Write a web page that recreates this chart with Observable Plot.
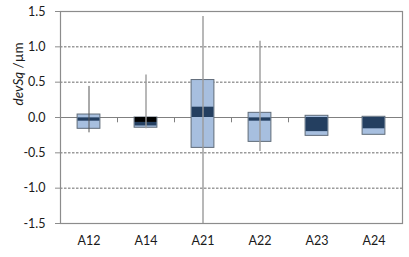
<!DOCTYPE html>
<html>
<head>
<meta charset="utf-8">
<script src="https://cdn.jsdelivr.net/npm/d3@7"></script>
<script src="https://cdn.jsdelivr.net/npm/@observablehq/plot@0.6"></script>
<style>
  html, body { margin: 0; padding: 0; background: #fff; }
  #chart { width: 409px; height: 257px; }
</style>
</head>
<body>
<div id="chart"></div>
<script>
// ---- data ----
const categories = ["A12", "A14", "A21", "A22", "A23", "A24"];
const boxLow  = [-0.16, -0.145, -0.43, -0.345, -0.26, -0.245];
const boxHigh = [0.042, 0.0, 0.53, 0.066, 0.024, 0.01];
const midLow  = [-0.052, -0.12, 0.0, -0.052, -0.2, -0.16];
const midHigh = [-0.005, -0.07, 0.146, -0.005, 0.0, 0.0];
const blackCats = ["A14"];
const blackLow  = [-0.07];
const blackHigh = [0.0];
const whiskerCats = ["A12", "A14", "A21", "A22"];
const whiskerLow  = [-0.217, -0.16, -1.5, -0.48];
const whiskerHigh = [0.44, 0.6, 1.43, 1.08];
const yTicks = [-1.5, -1.0, -0.5, 0.0, 0.5, 1.0, 1.5];
const gridValues = [-1.0, -0.5, 0.5, 1.0];
const separatorCats = ["A14", "A21", "A22", "A23"];

// ---- tables ----
const boxes = categories.map((c, i) => ({cat: c, lo: boxLow[i], hi: boxHigh[i], mlo: midLow[i], mhi: midHigh[i]}));
const blacks = blackCats.map((c, i) => ({cat: c, lo: blackLow[i], hi: blackHigh[i]}));
const whiskers = whiskerCats.map((c, i) => ({cat: c, lo: whiskerLow[i], hi: whiskerHigh[i]}));

const W = 409, H = 257, mL = 60, mR = 7, mT = 11, mB = 34;
const band = (W - mL - mR) / categories.length;
const inset = band * 0.3;

const chart = Plot.plot({
  width: W, height: H,
  marginLeft: mL, marginRight: mR, marginTop: mT, marginBottom: mB,
  style: {fontFamily: "Lato, 'Liberation Sans', sans-serif", fontSize: "12.5px", color: "#1a1a1a", background: "#fff"},
  x: {type: "band", domain: categories, padding: 0, label: null},
  y: {domain: [-1.5, 1.5], clamp: true, label: null},
  marks: [
    Plot.ruleY(gridValues, {stroke: "#444", strokeWidth: 0.8, strokeDasharray: "2.5,1.5"}),
    Plot.ruleY([0], {stroke: "#808080", strokeWidth: 1.2}),
    Plot.ruleX(separatorCats, {x: d => d, y1: 0, y2: -0.075, dx: -band / 2, stroke: "#808080", strokeWidth: 1}),
    Plot.frame({stroke: "#8c8c8c", strokeWidth: 1.2}),
    Plot.rectY(boxes, {x: "cat", y1: "lo", y2: "hi", fill: "#a7bfdf", stroke: "#5f6b78", strokeWidth: 1, insetLeft: inset, insetRight: inset}),
    Plot.rectY(boxes, {x: "cat", y1: "mlo", y2: "mhi", fill: "#243f60", insetLeft: inset + 0.5, insetRight: inset + 0.5}),
    Plot.rectY(blacks, {x: "cat", y1: "lo", y2: "hi", fill: "#000", insetLeft: inset + 0.5, insetRight: inset + 0.5}),
    Plot.ruleX(whiskers, {x: "cat", y1: "lo", y2: "hi",
      stroke: (d, i) => i === 0 ? "#555" : "#9a9a9a",
      strokeWidth: (d, i) => i === 0 ? 1 : 2,
      strokeOpacity: (d, i) => i === 0 ? 1 : 0.7}),
    Plot.axisY({ticks: yTicks, tickFormat: d => d.toFixed(1), tickSize: 5, tickPadding: 10, stroke: "#8c8c8c", label: null, fontSize: 12.5}),
    Plot.axisX({tickSize: 0, tickPadding: 13, label: null, fontSize: 12.5}),
    Plot.text(["devSq /µm"], {frameAnchor: "left", rotate: -90, dx: -42, dy: -12, fontSize: 13.5, fill: "#1a1a1a", className: "ytitle"})
  ]
});
document.getElementById("chart").appendChild(chart);

// italic "devSq" in the y title
const t = chart.querySelector(".ytitle text");
if (t) {
  const txt = t.textContent;
  t.textContent = "";
  const ns = "http://www.w3.org/2000/svg";
  const a = document.createElementNS(ns, "tspan");
  a.setAttribute("font-style", "italic");
  a.textContent = txt.slice(0, 5);
  const b = document.createElementNS(ns, "tspan");
  b.textContent = txt.slice(5);
  t.appendChild(a); t.appendChild(b);
}
</script>
</body>
</html>
